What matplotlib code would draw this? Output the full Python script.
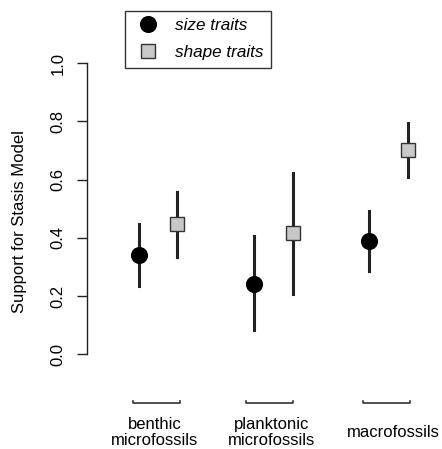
import numpy as np
import matplotlib
matplotlib.use("Agg")
import matplotlib.pyplot as plt
from matplotlib.lines import Line2D

plt.rcParams['font.family'] = ['Liberation Sans', 'DejaVu Sans']

# values
groups = ["benthic\nmicrofossils", "planktonic\nmicrofossils", "macrofossils"]
size_mean = [0.340, 0.243, 0.390]
size_lo = [0.234, 0.083, 0.287]
size_hi = [0.447, 0.406, 0.493]
shape_mean = [0.446, 0.415, 0.702]
shape_lo = [0.335, 0.206, 0.608]
shape_hi = [0.556, 0.624, 0.796]
y_ticks = [0.0, 0.2, 0.4, 0.6, 0.8, 1.0]

x_size = np.arange(1, 4)
x_shape = x_size + 0.335
bracket_left = [0.953, 1.928, 2.945]
bracket_right = [1.358, 2.336, 3.350]
label_x = [1.141, 2.153, 3.205]

fig = plt.figure(figsize=(4.42, 4.49), dpi=100)
ax = fig.add_axes([0.1962, 0.1018, 0.7767, 0.8091])
ax.set_xlim(0.549, 3.526)
ax.set_ylim(-0.1686, 1.080)

line_col = "#222222"

# error bars
for i in range(3):
    ax.plot([x_size[i], x_size[i]], [size_lo[i], size_hi[i]], color=line_col, lw=2.2, zorder=2)
    ax.plot([x_shape[i], x_shape[i]], [shape_lo[i], shape_hi[i]], color=line_col, lw=2.2, zorder=2)

ax.plot(x_size, size_mean, "o", color="black", ms=11.3, zorder=3, ls="none")
ax.plot(x_shape, shape_mean, "s", mfc="#c8c8c8", mec="#333333", mew=1.0, ms=9.6, zorder=3, ls="none")

# y axis like R
for s in ["top", "right", "bottom"]:
    ax.spines[s].set_visible(False)
ax.spines["left"].set_bounds(0, 1)
ax.spines["left"].set_color("#222222")
ax.spines["left"].set_linewidth(1.0)
ax.set_yticks(y_ticks)
ax.set_yticklabels(["%.1f" % v for v in y_ticks], rotation=90, va="center", fontsize=12)
ax.tick_params(axis="y", length=7.2, width=1.0, color="#222222", pad=8)
ax.set_xticks([])
ax.set_ylabel("Support for Stasis Model", fontsize=12, labelpad=17)

# group brackets under the plot
yb = -0.1686
for i in range(3):
    ax.plot([bracket_left[i], bracket_left[i], bracket_right[i], bracket_right[i]],
            [yb + 0.009, yb, yb, yb + 0.009], color="#333333", lw=1.2, clip_on=False)
    ax.text(label_x[i], -0.268, groups[i], ha="center", va="center", fontsize=12,
            linespacing=1.1, clip_on=False)

handles = [
    Line2D([], [], marker="o", color="black", ls="none", ms=11.3),
    Line2D([], [], marker="s", mfc="#c8c8c8", mec="#333333", mew=1.0, ls="none", ms=9.6),
]
leg = fig.legend(handles, ["size traits", "shape traits"], loc="upper left",
                 bbox_to_anchor=(125.3 / 442, 1 - 10.7 / 449),
                 prop={"style": "italic", "size": 12.3}, fancybox=False,
                 edgecolor="#333333", framealpha=1, borderpad=0.45,
                 handlelength=1.8, handletextpad=0.66, labelspacing=0.7,
                 borderaxespad=0)
leg.get_frame().set_linewidth(1.0)

fig.savefig("out.png", dpi=100)
